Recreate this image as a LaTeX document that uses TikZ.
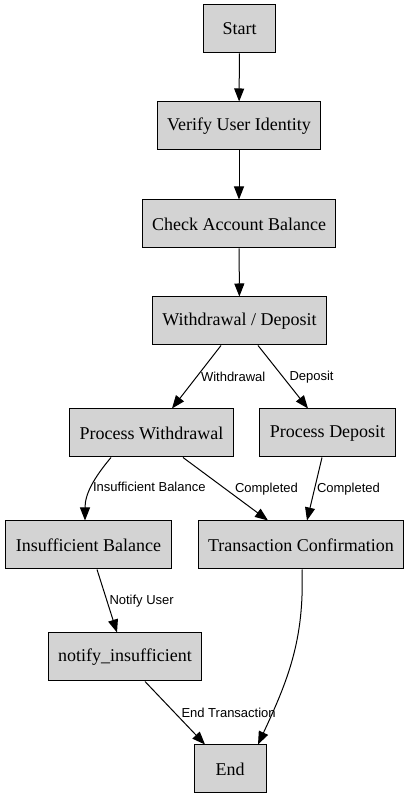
\documentclass[tikz,border=0pt]{standalone}
\usepackage{fontspec}
\setmainfont{Liberation Serif}
\newfontfamily\fonterotulo{Liberation Sans}
\usepackage{tikz}
\usetikzlibrary{arrows.meta,positioning}
\definecolor{cinzaetapa}{RGB}{211,211,211}
\tikzset{
  etapa/.style={rectangle,draw=black,fill=cinzaetapa,line width=1pt,
    minimum width=72pt,minimum height=48pt,inner xsep=10pt,
    font=\fontsize{18}{21}\selectfont},
  rotulo/.style={inner sep=1pt,font=\fonterotulo\fontsize{13}{15}\selectfont},
  seta/.style={-{Triangle[length=13pt,width=10pt]},line width=1pt,black}
}

\begin{document}
\begin{tikzpicture}[x=1pt,y=1pt]
  \useasboundingbox (0,0) rectangle (411,799);
  % etapas
  \node[etapa] (inicio) at (239.5,770) {Start};
  \node[etapa] (verificar) at (239,673) {Verify User Identity};
  \node[etapa] (saldo) at (239,575) {Check Account Balance};
  \node[etapa] (operacao) at (239.5,478) {Withdrawal / Deposit};
  \node[etapa] (saque) at (151.5,366) {Process Withdrawal};
  \node[etapa] (deposito) at (327.5,366) {Process Deposit};
  \node[etapa] (insuf) at (88.5,254) {Insufficient Balance};
  \node[etapa] (confirma) at (301,254) {Transaction Confirmation};
  \node[etapa] (notificar) at (125,142) {notify\_insufficient};
  \node[etapa] (fim) at (230,30) {End};
  % ligacoes
  \draw[seta] (inicio) -- (verificar);
  \draw[seta] (verificar) -- (saldo);
  \draw[seta] (saldo) -- (operacao);
  \draw[seta] ([xshift=-18.5pt]operacao.south) --
    node[rotulo,right=3pt] {Withdrawal} ([xshift=20.5pt]saque.north);
  \draw[seta] ([xshift=18.5pt]operacao.south) --
    node[rotulo,right=5pt] {Deposit} ([xshift=-19.5pt]deposito.north);
  \draw[seta] ([xshift=-40.5pt]saque.south) to[out=-130,in=90]
    node[rotulo,right=0pt] {Insufficient Balance} ([xshift=-3.5pt]insuf.north);
  \draw[seta] ([xshift=31.5pt]saque.south) --
    node[rotulo,right=8pt] {Completed} ([xshift=-33pt]confirma.north);
  \draw[seta] ([xshift=-5.5pt]deposito.south) --
    node[rotulo,right=1pt] {Completed} ([xshift=6pt]confirma.north);
  \draw[seta] ([xshift=8.5pt]insuf.south) --
    node[rotulo,right=1pt] {Notify User} ([xshift=-8pt]notificar.north);
  \draw[seta] ([xshift=20pt]notificar.south) --
    node[rotulo,right=5pt] {End Transaction} ([xshift=-25pt]fim.north);
  \draw[seta] ([xshift=1pt]confirma.south) to[out=-88,in=65] ([xshift=28pt]fim.north);
\end{tikzpicture}
\end{document}
